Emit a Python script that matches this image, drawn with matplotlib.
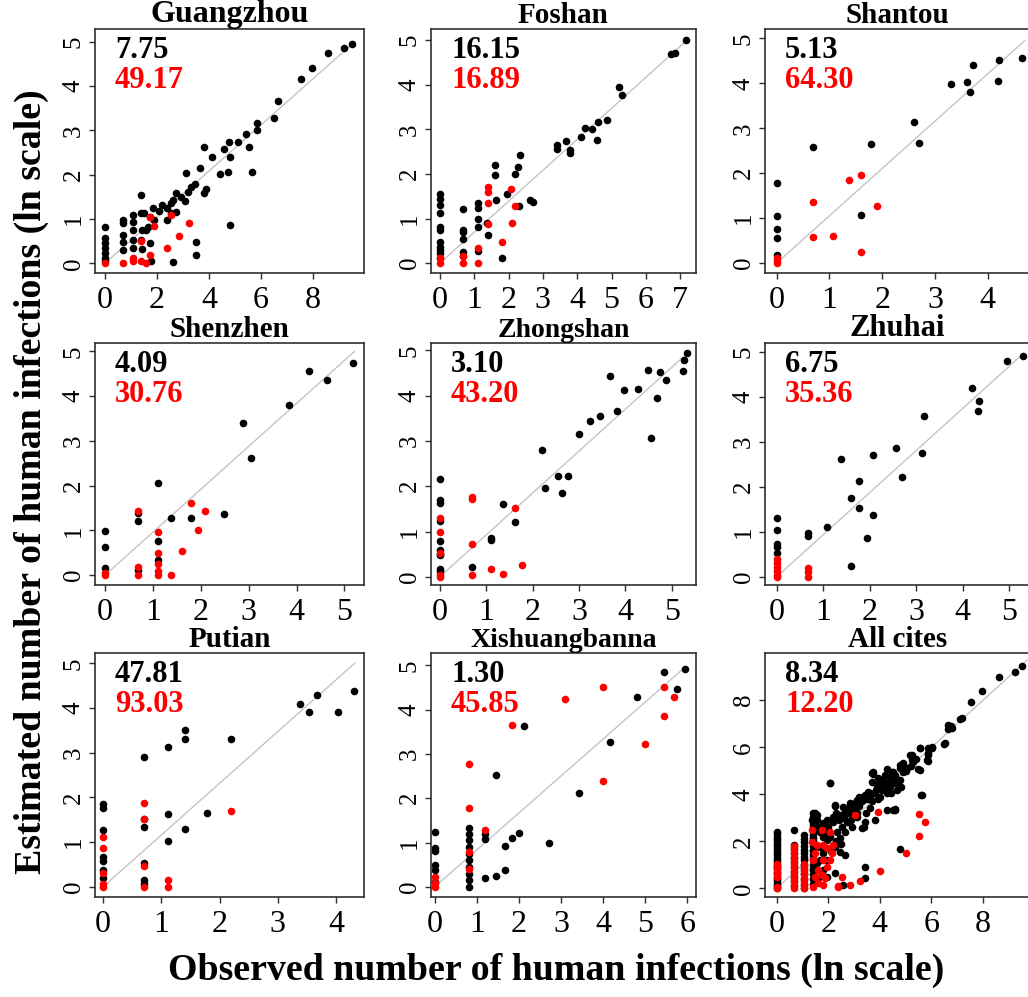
import matplotlib
matplotlib.use('Agg')
import matplotlib.pyplot as plt

plt.rcParams['font.family'] = ['Liberation Serif', 'DejaVu Serif']

# ---------------- data ----------------
cities = ['Guangzhou', 'Foshan', 'Shantou', 'Shenzhen', 'Zhongshan', 'Zhuhai',
          'Putian', 'Xishuangbanna', 'All cites']
black_values = ['7.75', '16.15', '5.13', '4.09', '3.10', '6.75', '47.81', '1.30', '8.34']
red_values = ['49.17', '16.89', '64.30', '30.76', '43.20', '35.36', '93.03', '45.85', '12.20']

guangzhou_black = [(9.51, 4.96), (9.21, 4.86), (8.59, 4.75), (7.97, 4.41), (7.55, 4.16), (6.67, 3.67),
                   (6.49, 3.27), (5.86, 3.16), (5.86, 3.01), (5.41, 2.93), (5.13, 2.73), (4.77, 2.73),
                   (4.59, 2.58), (5.55, 2.63), (4.81, 2.41), (4.13, 2.41), (3.81, 2.63), (4.42, 2.02),
                   (4.72, 2.07), (5.67, 2.07), (4.81, 0.86), (3.65, 2.14), (3.13, 2.03), (3.87, 1.68),
                   (3.82, 1.58), (3.46, 1.78), (3.29, 1.73), (3.21, 1.62), (3.06, 1.41), (2.91, 1.50),
                   (2.72, 1.58), (2.63, 1.43), (2.54, 1.37), (2.72, 1.15), (2.40, 1.24), (2.18, 1.32),
                   (2.06, 1.18), (1.83, 1.24), (1.73, 1.05), (1.90, 0.98), (1.67, 0.83), (1.58, 0.75),
                   (1.41, 0.75), (1.38, 1.54), (1.38, 1.13), (1.50, 1.13), (1.41, 0.32), (1.38, 0.53),
                   (1.06, 1.09), (1.06, 0.94), (1.06, 0.75), (1.06, 0.53), (0.68, 0.98), (0.68, 0.90),
                   (0.68, 0.64), (0.68, 0.47), (1.73, 0.45), (1.77, 0.04), (2.40, 0.98), (2.63, 0.02),
                   (3.50, 0.47), (3.50, 0.19), (2.54, 1.13), (0.0, 0.83), (0.0, 0.56), (0.0, 0.45),
                   (0.0, 0.34), (0.0, 0.23), (0.0, 0.11), (0.0, 0.04), (0.68, 0.30), (1.06, 0.34)]
guangzhou_red = [(0.0, 0.0), (0.68, 0.0), (1.06, 0.13), (1.06, 0.04), (1.38, 0.50), (1.38, 0.04),
                 (1.58, 0.0), (1.73, 1.05), (1.73, 0.19), (1.90, 0.84), (2.40, 0.35), (2.54, 1.09),
                 (2.86, 0.62), (3.23, 0.90)]

foshan_black = [(7.16, 5.0), (6.86, 4.72), (6.73, 4.70), (5.21, 3.94), (5.31, 3.77), (4.86, 3.20),
                (4.61, 3.16), (4.42, 3.01), (4.22, 3.03), (4.11, 2.83), (4.58, 2.77), (3.67, 2.75),
                (3.42, 2.64), (3.42, 2.57), (3.79, 2.53), (3.79, 2.46), (2.33, 2.42), (2.28, 2.16),
                (2.18, 2.01), (1.60, 2.20), (1.60, 1.97), (1.94, 1.54), (1.62, 1.41), (2.31, 1.28),
                (2.62, 1.41), (2.72, 1.38), (1.38, 0.91), (1.41, 0.63), (1.82, 0.11), (1.12, 1.35),
                (1.12, 1.23), (1.12, 1.00), (1.12, 0.82), (1.12, 0.28), (0.68, 1.21), (0.68, 0.74),
                (0.68, 0.71), (0.68, 0.54), (0.68, 0.26), (0.68, 0.15), (0.0, 1.56), (0.0, 1.45),
                (0.0, 1.30), (0.0, 1.12), (0.0, 0.82), (0.0, 0.74), (0.0, 0.48), (0.0, 0.37),
                (0.0, 0.30), (0.0, 0.22), (0.0, 0.11)]
foshan_red = [(0.0, 0.0), (0.0, 0.11), (0.68, 0.0), (0.68, 0.15), (1.12, 0.0), (1.12, 0.33),
              (1.41, 1.71), (1.41, 1.60), (1.41, 1.34), (1.41, 0.88), (1.80, 0.48), (2.07, 1.67),
              (2.09, 0.89), (2.20, 1.29)]

shantou_black = [(4.64, 4.56), (4.21, 4.52), (4.19, 4.06), (3.72, 4.41), (3.61, 4.04), (3.67, 3.81),
                 (3.31, 3.98), (2.61, 3.13), (2.70, 2.67), (1.78, 2.64), (0.68, 2.58), (1.60, 1.07),
                 (0.0, 1.78), (0.0, 1.04), (0.0, 0.76), (0.0, 0.56), (0.0, 0.19)]
shantou_red = [(0.0, 0.11), (0.0, 0.04), (0.0, 0.0), (0.68, 1.37), (0.68, 0.58), (1.07, 0.61),
               (1.37, 1.85), (1.60, 1.95), (1.91, 1.28), (1.60, 0.24)]

shenzhen_black = [(5.19, 4.75), (4.64, 4.36), (4.26, 4.57), (3.84, 3.81), (3.04, 2.61), (2.89, 3.41),
                  (2.49, 1.37), (1.80, 1.27), (1.37, 1.27), (1.11, 2.07), (1.11, 0.76), (1.11, 0.35),
                  (0.69, 1.21), (0.69, 1.40), (0.0, 0.99), (0.0, 0.62), (0.0, 0.15), (0.69, 0.11)]
shenzhen_red = [(0.0, 0.04), (0.0, 0.0), (0.69, 1.44), (0.69, 0.19), (0.69, 0.0), (1.11, 0.97),
                (1.11, 0.50), (1.11, 0.26), (1.11, 0.10), (1.11, 0.0), (1.37, 0.01), (1.60, 0.54),
                (1.80, 1.62), (1.94, 1.01), (2.08, 1.43)]

zhongshan_black = [(5.32, 4.95), (5.27, 4.79), (5.25, 4.54), (4.74, 4.51), (4.88, 4.34), (4.49, 4.57),
                   (4.69, 3.95), (4.56, 3.07), (4.28, 4.15), (3.97, 4.13), (3.82, 3.66), (3.67, 4.43),
                   (3.46, 3.54), (3.23, 3.43), (2.99, 3.16), (2.76, 2.22), (2.55, 2.22), (2.63, 1.84),
                   (2.27, 1.95), (2.20, 2.79), (1.37, 1.60), (1.61, 1.20), (1.10, 0.86), (1.10, 0.81),
                   (0.69, 0.22), (0.0, 2.15), (0.0, 1.69), (0.0, 1.63), (0.0, 1.23), (0.0, 0.79),
                   (0.0, 0.59), (0.0, 0.48), (0.0, 0.18), (0.0, 0.13), (0.0, 0.51)]
zhongshan_red = [(0.0, 1.29), (0.0, 0.99), (0.0, 0.53), (0.0, 0.04), (0.0, 0.0), (0.69, 1.76),
                 (0.69, 1.71), (0.69, 0.72), (0.69, 0.04), (1.10, 0.18), (1.37, 0.07), (1.78, 0.27),
                 (1.61, 1.51)]

zhuhai_black = [(5.29, 4.91), (4.96, 4.79), (4.20, 4.19), (4.35, 3.90), (4.34, 3.67), (3.17, 3.56),
                (3.13, 2.76), (2.56, 2.87), (2.08, 2.70), (1.38, 2.61), (1.78, 2.13), (2.70, 2.22),
                (1.60, 1.76), (1.78, 1.52), (2.08, 1.37), (1.08, 1.10), (0.67, 0.98), (0.67, 0.90),
                (1.94, 0.87), (1.60, 0.24), (0.0, 1.31), (0.0, 1.04), (0.0, 0.74), (0.0, 0.67),
                (0.0, 0.52)]
zhuhai_red = [(0.0, 0.39), (0.0, 0.31), (0.0, 0.22), (0.0, 0.13), (0.0, 0.04), (0.0, 0.0),
              (0.67, 0.19), (0.67, 0.10), (0.67, 0.0)]

putian_black = [(4.31, 4.38), (3.67, 4.29), (3.38, 4.08), (3.54, 3.92), (4.03, 3.92), (2.20, 3.31),
                (1.40, 3.51), (1.40, 3.31), (1.11, 3.12), (0.71, 2.91), (1.79, 1.66), (1.11, 1.63),
                (1.40, 1.29), (1.11, 1.02), (0.71, 1.51), (0.71, 1.33), (0.71, 0.52), (0.71, 0.15),
                (0.71, 0.07), (0.0, 1.84), (0.0, 1.77), (0.0, 1.28), (0.0, 0.66), (0.0, 0.58),
                (0.0, 0.37), (0.0, 0.19)]
putian_red = [(0.0, 1.12), (0.0, 0.86), (0.0, 0.31), (0.0, 0.07), (0.0, 0.0), (0.71, 1.88),
              (0.71, 1.51), (0.71, 0.47), (0.71, 0.0), (1.11, 0.15), (1.11, 0.0), (2.20, 1.69)]

xishuangbanna_black = [(5.94, 4.92), (5.46, 4.86), (5.76, 4.47), (4.81, 4.29), (4.17, 3.27), (3.43, 2.11),
                       (2.72, 0.99), (2.13, 3.63), (1.46, 2.53), (2.01, 1.22), (1.83, 1.11), (1.68, 0.92),
                       (1.68, 0.39), (1.46, 0.24), (1.20, 0.20), (1.20, 1.20), (1.20, 1.09), (0.81, 1.32),
                       (0.81, 1.20), (0.81, 1.05), (0.81, 0.90), (0.81, 0.75), (0.81, 0.60), (0.81, 0.45),
                       (0.81, 0.30), (0.81, 0.15), (0.81, 0.0), (0.0, 1.23), (0.0, 0.88), (0.0, 0.80),
                       (0.0, 0.49), (0.0, 0.38), (0.0, 0.11)]
xishuangbanna_red = [(0.0, 0.23), (0.0, 0.0), (0.0, 0.08), (0.81, 2.78), (0.81, 1.77), (0.81, 0.79),
                     (0.81, 0.41), (1.20, 1.29), (1.83, 3.65), (3.10, 4.23), (3.99, 4.51), (4.00, 2.38),
                     (5.00, 3.23), (5.46, 4.51), (5.68, 4.29), (5.46, 3.85)]

all_black = [
    # column at 0
    (0.0, 0.0), (0.0, 0.1), (0.0, 0.2), (0.0, 0.3), (0.0, 0.4), (0.0, 0.5), (0.0, 0.6), (0.0, 0.7),
    (0.0, 0.8), (0.0, 0.9), (0.0, 1.0), (0.0, 1.1), (0.0, 1.2), (0.0, 1.3), (0.0, 1.4), (0.0, 1.5),
    (0.0, 1.6), (0.0, 1.7), (0.0, 1.8), (0.0, 1.9), (0.0, 2.0), (0.0, 2.1), (0.0, 2.2), (0.0, 2.3),
    (0.0, 2.4),
    # column at 0.69
    (0.69, 2.5), (0.69, 1.85), (0.69, 1.7), (0.69, 1.5), (0.69, 1.3), (0.69, 1.1), (0.69, 0.9),
    (0.69, 0.7), (0.69, 0.5), (0.69, 0.3), (0.69, 0.1),
    # column at 1.05
    (1.05, 2.25), (1.05, 2.1), (1.05, 1.95), (1.05, 1.8), (1.05, 1.65), (1.05, 1.5), (1.05, 1.35),
    (1.05, 1.2), (1.05, 1.0), (1.05, 0.8), (1.05, 0.6), (1.05, 0.4), (1.05, 0.2), (1.05, 0.0),
    # column at 1.40
    (1.40, 3.2), (1.40, 3.05), (1.40, 2.9), (1.40, 2.75), (1.40, 2.6), (1.40, 2.45), (1.40, 2.3),
    (1.40, 2.15), (1.40, 2.0), (1.40, 1.8), (1.40, 1.6), (1.40, 1.4), (1.40, 1.2), (1.40, 1.0),
    (1.40, 0.8), (1.40, 0.6), (1.40, 0.4), (1.40, 0.2),
    # scattered
    (9.51, 9.46), (9.23, 9.21), (8.61, 8.97), (7.97, 8.39), (7.55, 7.93), (7.12, 7.22), (6.74, 6.90),
    (6.65, 6.76), (6.49, 6.16), (6.04, 6.02), (5.87, 5.98), (5.55, 5.98), (5.87, 5.67), (5.87, 5.41),
    (5.42, 5.52), (5.16, 5.67), (5.23, 5.45), (5.48, 5.06), (5.07, 5.13), (4.77, 5.24), (4.90, 4.96),
    (4.49, 4.96), (4.26, 5.07), (3.74, 4.86), (3.68, 4.53), (4.04, 4.60), (4.13, 4.32), (4.32, 4.39),
    (4.58, 4.46), (4.65, 4.18), (4.84, 4.32), (4.45, 4.04), (4.26, 4.04), (3.87, 4.18), (3.94, 3.82),
    (3.61, 3.90), (3.42, 3.97), (3.19, 3.90), (3.06, 3.68), (2.84, 3.54), (2.71, 3.33), (5.61, 3.99),
    (4.58, 3.36), (4.80, 1.66), (2.06, 4.46), (3.48, 3.22), (3.39, 2.62), (2.61, 3.05), (2.32, 3.19),
    (2.28, 3.54), (2.58, 3.47), (7.17, 7.23), (6.65, 6.95), (6.78, 6.81), (6.52, 6.17), (6.01, 5.96),
    (5.88, 5.74), (5.55, 5.96), (5.81, 5.46), (5.23, 5.67), (5.30, 5.39), (5.55, 5.03), (4.91, 5.32),
    (4.78, 5.11), (4.52, 4.96), (4.39, 4.75), (4.13, 4.61), (3.74, 4.96), (4.65, 4.54), (3.88, 4.32),
    (3.62, 4.04), (3.36, 3.90), (3.10, 3.76), (5.62, 3.97), (4.59, 3.33),
    (2.07, 4.47), (3.68, 4.89), (3.94, 4.68), (4.20, 4.82), (4.33, 4.47), (4.52, 4.68), (4.07, 4.18),
    (3.81, 4.04), (3.55, 4.11), (3.42, 3.90), (3.17, 3.76), (2.84, 3.62), (2.97, 3.40), (2.65, 3.26),
    (2.45, 3.12), (2.26, 3.48), (2.20, 3.05), (1.94, 2.91), (1.81, 2.77), (1.55, 3.12), (1.55, 2.91),
    (1.61, 2.62), (1.87, 2.41), (2.07, 2.20), (2.33, 2.41), (2.52, 2.62), (2.71, 2.84), (2.45, 2.13),
    (2.65, 2.41), (2.91, 2.62), (3.10, 3.05), (3.42, 2.84), (3.29, 2.55), (3.81, 2.91), (4.26, 3.33),
    (2.26, 1.77), (2.45, 1.56), (2.65, 1.42), (1.94, 2.06), (1.68, 1.77), (1.81, 1.49), (1.68, 1.21),
    (1.94, 1.21), (1.55, 1.06), (1.81, 0.78), (1.42, 0.78), (1.61, 0.43), (1.94, 0.50), (2.26, 0.64),
    (3.42, 0.92), (3.42, 0.43), (2.58, 0.14), (1.49, 3.19), (1.36, 2.91), (1.42, 2.20), (1.42, 1.63),
    (4.52, 3.33),
    (2.0, 2.6), (2.2, 2.8), (2.4, 2.9), (2.6, 3.0), (2.8, 3.2), (3.0, 3.4), (3.2, 3.5), (3.3, 3.7),
    (3.5, 3.8), (3.7, 3.7), (3.9, 4.4), (4.1, 4.4), (4.3, 4.2), (4.6, 4.8), (4.8, 4.6), (5.0, 5.0),
    (5.2, 5.2), (2.3, 2.0), (2.5, 1.9), (2.1, 1.6), (1.8, 2.2), (1.7, 2.4), (1.9, 2.6), (2.9, 2.9),
    (3.1, 3.2), (3.6, 3.4), (4.0, 3.9), (4.4, 4.3)]
all_red = [
    (0.0, 0.0), (0.0, 0.05), (0.0, 0.5), (0.0, 0.65), (0.0, 0.8), (0.0, 0.95), (0.0, 1.05),
    (0.69, 0.0), (0.69, 0.15), (0.69, 0.3), (0.69, 0.45), (0.69, 0.6), (0.69, 0.75), (0.69, 0.9),
    (0.69, 1.05), (0.69, 1.2), (0.69, 1.35), (0.69, 1.5), (0.69, 1.65), (0.69, 1.8),
    (1.05, 0.0), (1.05, 0.15), (1.05, 0.3), (1.05, 0.45), (1.05, 0.6), (1.05, 0.75), (1.05, 0.9),
    (1.05, 1.05),
    (1.36, 2.48), (1.74, 2.48), (2.07, 2.41), (1.36, 1.99), (1.55, 1.84), (1.81, 1.84), (1.49, 1.49),
    (1.94, 1.70), (2.20, 1.84), (2.13, 1.49), (2.07, 1.21), (1.81, 1.21), (1.94, 0.92), (1.42, 1.21),
    (1.61, 0.78), (1.49, 0.50), (1.74, 0.57), (1.87, 0.43), (1.61, 0.21), (1.81, 0.14), (1.42, 0.07),
    (2.39, 0.07), (2.55, 0.50), (2.84, 0.14), (3.23, 0.33), (3.04, 3.12), (4.01, 0.75), (3.94, 3.26),
    (5.51, 3.14), (5.74, 2.83), (5.52, 2.22), (5.03, 1.49), (2.36, 0.11)]

black_series = [guangzhou_black, foshan_black, shantou_black, shenzhen_black, zhongshan_black,
                zhuhai_black, putian_black, xishuangbanna_black, all_black]
red_series = [guangzhou_red, foshan_red, shantou_red, shenzhen_red, zhongshan_red,
              zhuhai_red, putian_red, xishuangbanna_red, all_red]

# reference line end points (starts at 0,0)
line_end_x = [9.6, 7.2, 4.7, 5.21, 5.35, 5.3, 4.32, 5.9, 9.7]
line_end_y = [5.0, 5.0, 4.95, 5.0, 4.95, 4.95, 5.0, 4.92, 9.7]

x_ticks = [[0, 2, 4, 6, 8], [0, 1, 2, 3, 4, 5, 6, 7], [0, 1, 2, 3, 4], [0, 1, 2, 3, 4, 5],
           [0, 1, 2, 3, 4, 5], [0, 1, 2, 3, 4, 5], [0, 1, 2, 3, 4], [0, 1, 2, 3, 4, 5, 6],
           [0, 2, 4, 6, 8]]
y_ticks = [[0, 1, 2, 3, 4, 5]] * 8 + [[0, 2, 4, 6, 8]]

# ---------------- layout ----------------
W, H = 1028, 997
fig = plt.figure(figsize=(W / 100, H / 100), dpi=100)

col_left = [95, 431, 765]
col_right = [364, 696, 1030]
row_top = [29, 343, 653]
row_bottom = [273, 585, 897]

xlims = [(-0.385, 9.96), (-0.26, 7.46), (-0.22, 4.80), (-0.21, 5.41), (-0.19, 5.52), (-0.25, 5.45),
         (-0.14, 4.48), (-0.09, 6.21), (-0.45, 9.82)]
ylims = [(-0.22, 5.29), (-0.22, 5.25), (-0.22, 5.21), (-0.22, 5.19), (-0.18, 5.16), (-0.18, 5.19),
         (-0.23, 5.23), (-0.23, 5.28), (-0.37, 10.01)]
title_sizes = [23, 21, 21, 21, 20, 22, 21, 20, 21]

BLACK = '#000000'
RED = '#ff0000'
GREY = '#c4c4c4'
FRAME = '#303030'

for i in range(9):
    r, c = divmod(i, 3)
    l, rr = col_left[c], col_right[c]
    t, b = row_top[r], row_bottom[r]
    ax = fig.add_axes([l / W, 1 - b / H, (rr - l) / W, (b - t) / H])
    ax.plot([0, line_end_x[i]], [0, line_end_y[i]], color=GREY, lw=1.0, zorder=1)
    bx = [p[0] for p in black_series[i]]
    by = [p[1] for p in black_series[i]]
    rx = [p[0] for p in red_series[i]]
    ry = [p[1] for p in red_series[i]]
    ax.scatter(bx, by, s=30, color=BLACK, linewidths=0, zorder=2)
    ax.scatter(rx, ry, s=30, color=RED, linewidths=0, zorder=3)
    ax.set_xlim(*xlims[i])
    ax.set_ylim(*ylims[i])
    ax.set_xticks(x_ticks[i])
    ax.set_yticks(y_ticks[i])
    ax.tick_params(axis='x', direction='out', length=4.3, width=1.0, color=FRAME,
                   labelsize=23, pad=5.0)
    ax.tick_params(axis='y', direction='out', length=4.3, width=1.0, color=FRAME,
                   labelsize=18, pad=3.0, labelrotation=90)
    for lab in ax.get_yticklabels():
        lab.set_verticalalignment('center')
    for sp in ax.spines.values():
        sp.set_color(FRAME)
        sp.set_linewidth(1.2)
    ax.set_title(cities[i], fontsize=title_sizes[i], fontweight='bold', pad=0)
    ax.annotate(black_values[i], xy=(0, 1), xycoords='axes fraction', xytext=(20, -21),
                textcoords='offset pixels', ha='left', va='center', fontsize=22,
                fontweight='bold', color=BLACK)
    ax.annotate(red_values[i], xy=(0, 1), xycoords='axes fraction', xytext=(20, -51),
                textcoords='offset pixels', ha='left', va='center', fontsize=22,
                fontweight='bold', color=RED)

fig.text(556 / W, 1 - 970 / H, 'Observed number of human infections (ln scale)',
         ha='center', va='center', fontsize=27.3, fontweight='bold')
fig.text(31 / W, 1 - 482 / H, 'Estimated number of human infections (ln scale)',
         ha='center', va='center', rotation=90, fontsize=27.3, fontweight='bold')

fig.savefig('out.png', dpi=100)
